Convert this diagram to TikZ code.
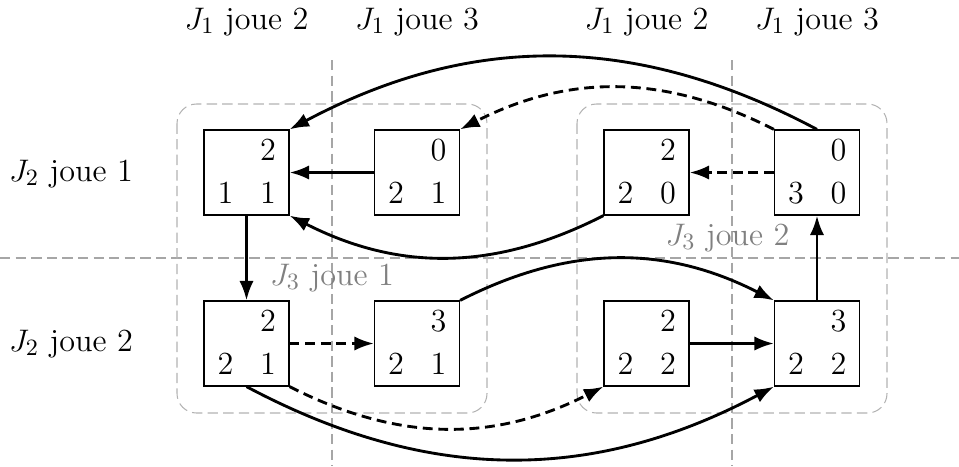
\documentclass[tikz,border=0pt]{standalone}
\usepackage{graphicx}
\usetikzlibrary{arrows.meta,calc}
\newcommand\bigtxt[1]{{\fontsize{12.4}{14.5}\selectfont #1}}
\tikzset{
 gridline/.style={draw=black!35, line width=0.4pt, dash pattern=on 4pt off 2pt},
 grouprect/.style={draw=black!30, line width=0.4pt, dash pattern=on 4pt off 2pt, rounded corners=7.5pt},
 payoff/.style={draw, line width=0.5pt, minimum size=32.7pt, inner sep=0pt},
 num/.style={anchor=base, inner sep=0pt},
 move/.style={line width=1.1pt, -{Latex[length=7.5pt,width=5.5pt]}},
 dmove/.style={move, dash pattern=on 3.8pt off 2.2pt},
 lab/.style={anchor=base, inner sep=0pt},
 glab/.style={lab, text=black!50},
}
\newcommand\payoffbox[6]{%
 \node[payoff] (#1) at (#2,#3) {};
 \node[num] (#1-tr) at ($(#1.center)+(21.5,-12.5)$) {\bigtxt{#4}};
 \node[num] (#1-bl) at ($(#1.center)+(-21,30.5)$) {\bigtxt{#5}};
 \node[num] (#1-br) at ($(#1.center)+(21.5,30.5)$) {\bigtxt{#6}};
}
\begin{document}
\begin{tikzpicture}[x=0.385pt,y=-0.385pt]
\useasboundingbox (0,0) rectangle (959,466);
% grid
\draw[gridline] (332,60) -- (332,466);
\draw[gridline] (732,60) -- (732,466);
\draw[gridline] (0,258) -- (959,258);
% groups
\draw[grouprect] (177,104) rectangle (487,413);
\draw[grouprect] (577,104) rectangle (887,413);
% boxes
\payoffbox{A}{246.5}{172.5}{2}{1}{1}
\payoffbox{B}{417}{172.5}{0}{2}{1}
\payoffbox{C}{646.5}{172.5}{2}{2}{0}
\payoffbox{D}{817}{172.5}{0}{3}{0}
\payoffbox{E}{246.5}{343.5}{2}{2}{1}
\payoffbox{F}{417}{343.5}{3}{2}{1}
\payoffbox{G}{646.5}{343.5}{2}{2}{2}
\payoffbox{H}{817}{343.5}{3}{2}{2}
% labels
\node[lab] (t1) at (246.5,29) {\bigtxt{$J_1$ joue 2}};
\node[lab] (t2) at (417,29) {\bigtxt{$J_1$ joue 3}};
\node[lab] (t3) at (646.5,29) {\bigtxt{$J_1$ joue 2}};
\node[lab] (t4) at (817,29) {\bigtxt{$J_1$ joue 3}};
\node[lab] (l1) at (71,181) {\bigtxt{$J_2$ joue 1}};
\node[lab] (l2) at (71,351) {\bigtxt{$J_2$ joue 2}};
\node[glab] (g1) at (332,285) {\bigtxt{$J_3$ joue 1}};
\node[glab] (g2) at (727.5,245) {\bigtxt{$J_3$ joue 2}};
% moves
\draw[move] (D.north) to[bend right=28] (A.north east);
\draw[dmove] (D.north west) to[bend right=27] (B.north east);
\draw[move] (B.west) -- (A.east);
\draw[dmove] (D.west) -- (C.east);
\draw[move] (C.south west) to[bend left=27] (A.south east);
\draw[move] (A.south) -- (E.north);
\draw[dmove] (E.east) -- (F.west);
\draw[move] (F.north east) to[bend left=27] (H.north west);
\draw[move] (G.east) -- (H.west);
\draw[move] (H.north) -- (D.south);
\draw[dmove] (E.south east) to[bend right=27] (G.south west);
\draw[move] (E.south) to[bend right=28] (H.south west);
\end{tikzpicture}
\end{document}
